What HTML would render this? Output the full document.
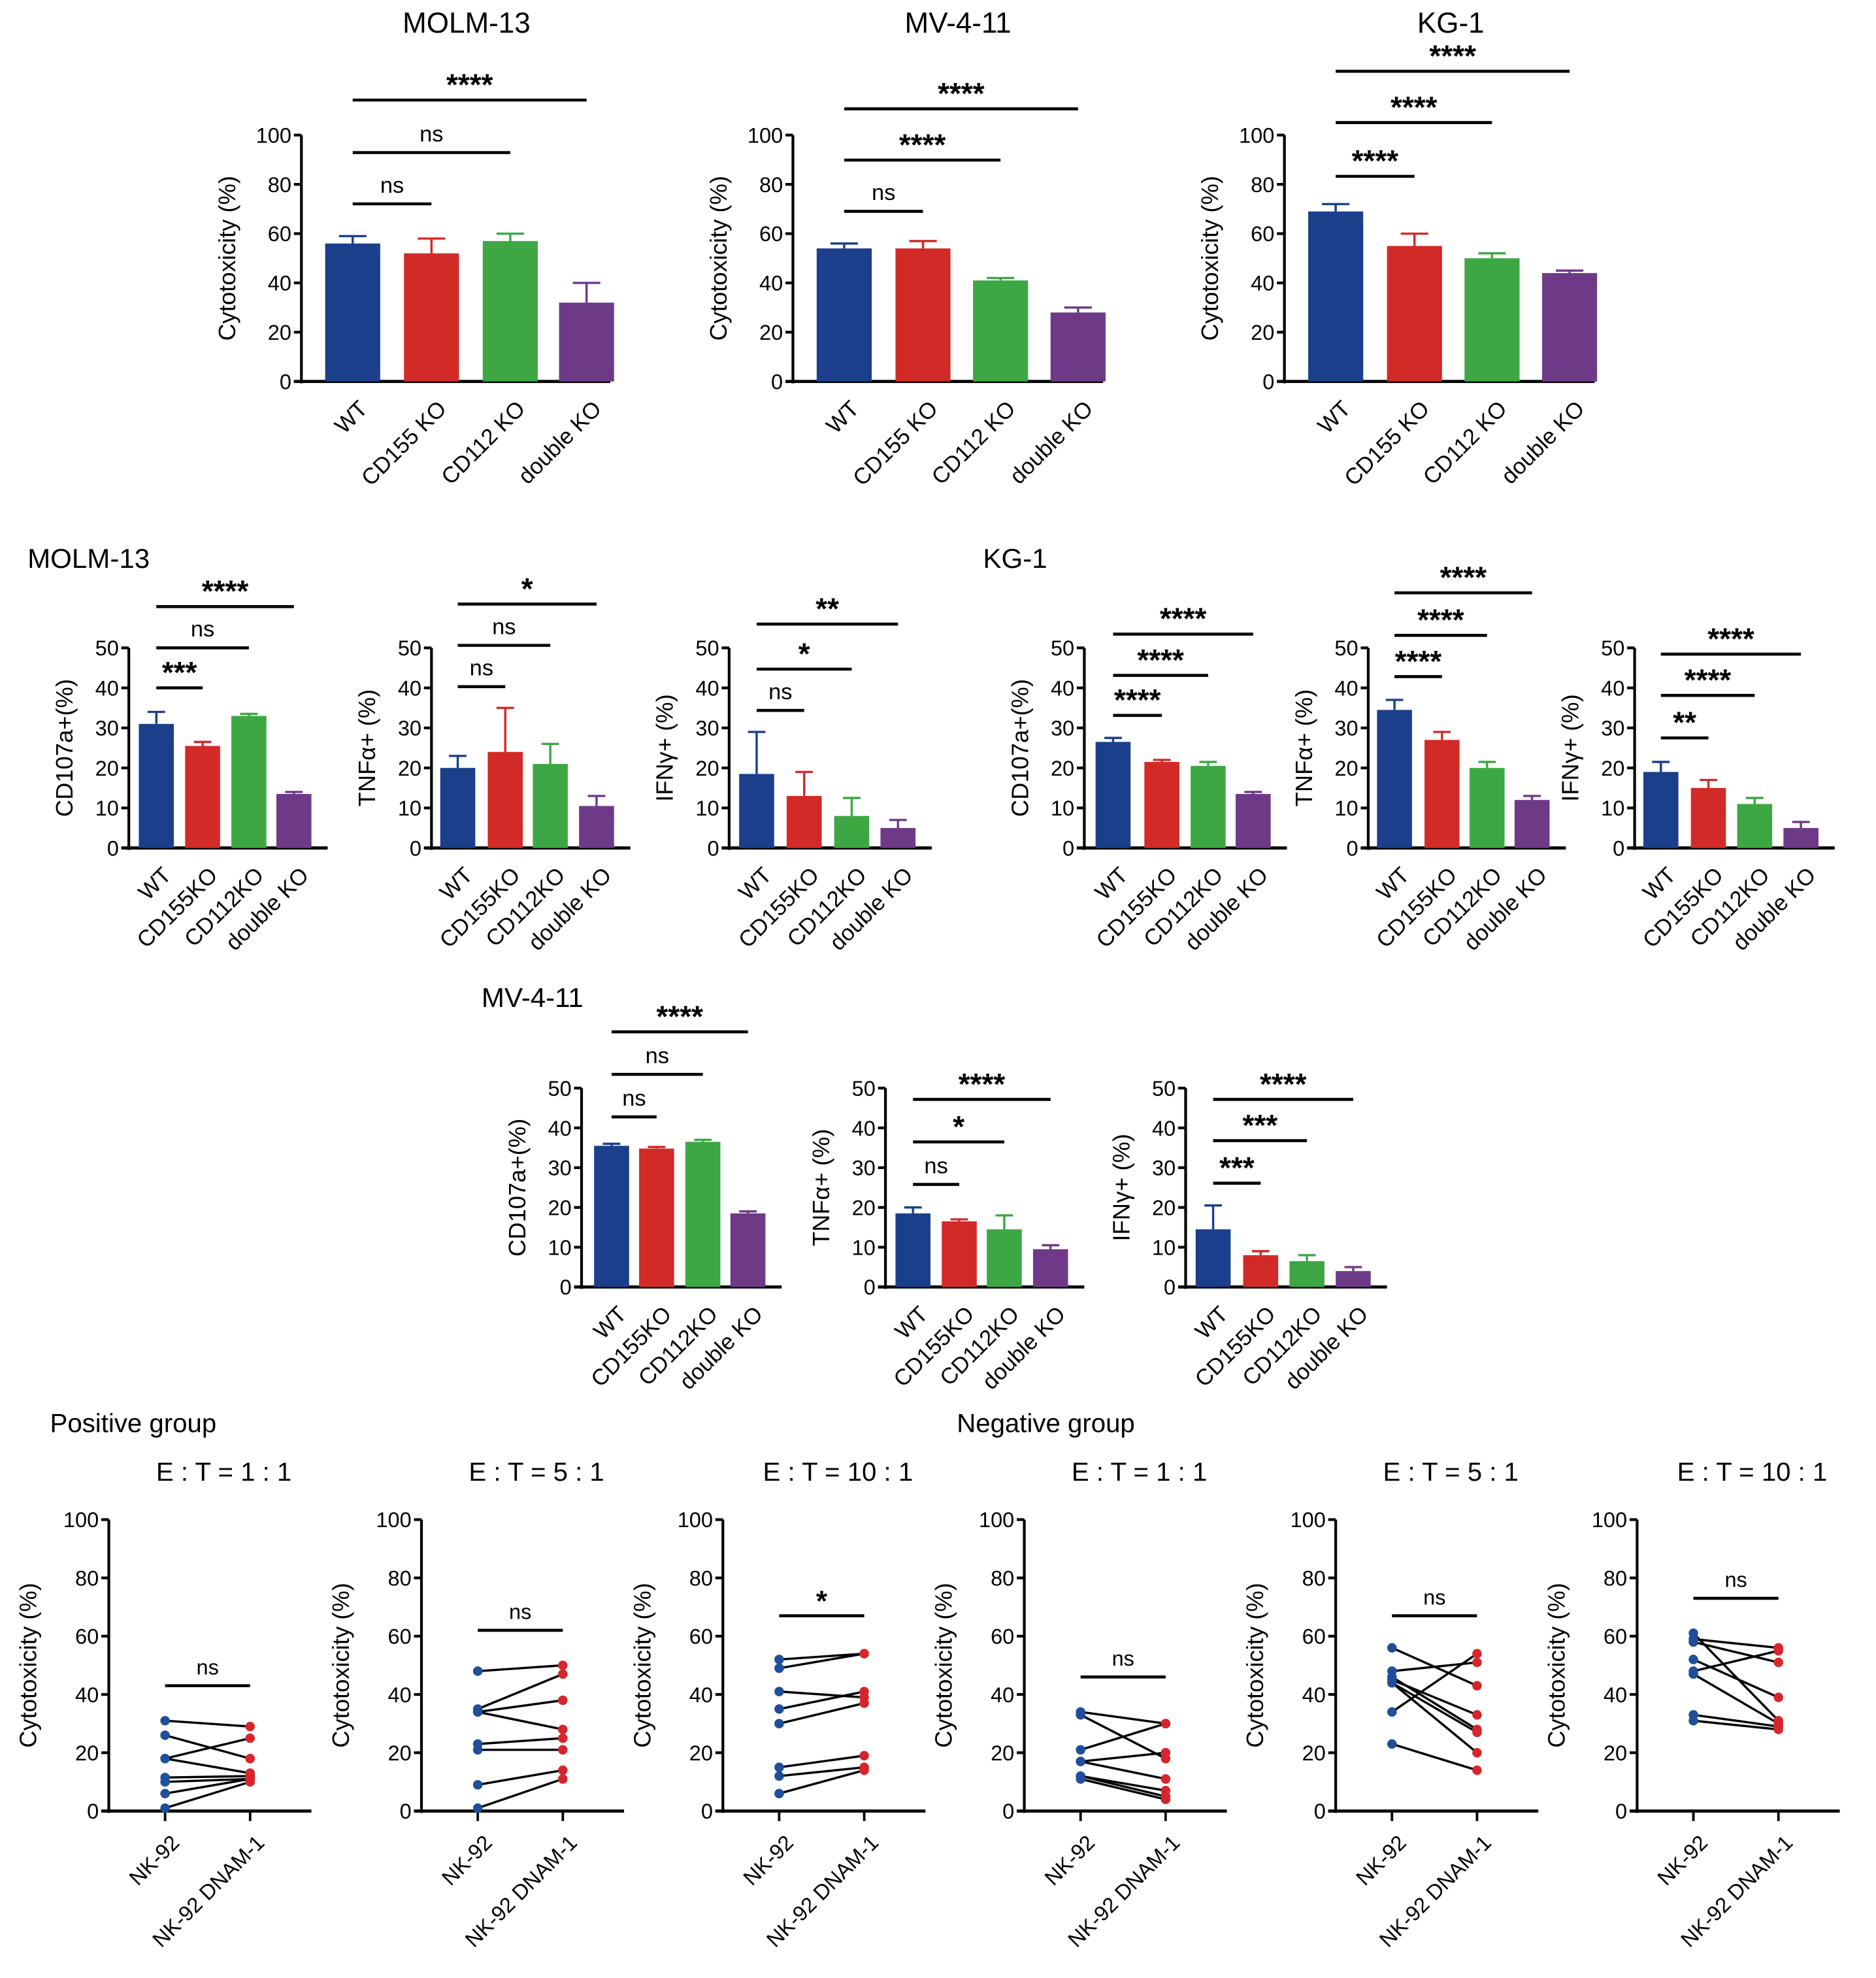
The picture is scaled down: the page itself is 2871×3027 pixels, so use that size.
<!DOCTYPE html>
<html><head><meta charset="utf-8"><style>
html,body{margin:0;padding:0;background:#fff}
svg{display:block}
text{font-family:"Liberation Sans",sans-serif;fill:#000}
</style></head><body>
<svg id="fig" width="2871" height="3027" viewBox="0 0 1500 1581.5" xmlns="http://www.w3.org/2000/svg"></svg>
<script>
// ---- data ----
const barCats=["WT","CD155 KO","CD112 KO","double KO"];
const barCats2=["WT","CD155KO","CD112KO","double KO"];
const colors=["#1b3f8b","#d22a27","#3da744","#6e3a88"];
const molmCyto=[56,52,57,32], molmCytoErr=[59,58,60,40];
const mvCyto=[54,54,41,28], mvCytoErr=[56,57,42,30];
const kgCyto=[69,55,50,44], kgCytoErr=[72,60,52,45];
const molmCD107=[31,25.5,33,13.5], molmCD107Err=[34,26.5,33.5,14];
const molmTNF=[20,24,21,10.5], molmTNFErr=[23,35,26,13];
const molmIFN=[18.5,13,8,5], molmIFNErr=[29,19,12.5,7];
const kgCD107=[26.5,21.5,20.5,13.5], kgCD107Err=[27.5,22,21.5,14];
const kgTNF=[34.5,27,20,12], kgTNFErr=[37,29,21.5,13];
const kgIFN=[19,15,11,5], kgIFNErr=[21.5,17,12.5,6.5];
const mvCD107=[35.5,34.8,36.5,18.5], mvCD107Err=[36,35.2,37,19];
const mvTNF=[18.5,16.5,14.5,9.5], mvTNFErr=[20,17,18,10.5];
const mvIFN=[14.5,8,6.5,4], mvIFNErr=[20.5,9,8,5];
const cytoTicks=[0,20,40,60,80,100];
const pctTicks=[0,10,20,30,40,50];
const pairCats=["NK-92","NK-92 DNAM-1"];
const posE1Before=[31,26,18,18,11.5,10,6,1], posE1After=[29,18,25,13,12,11,11,10];
const posE5Before=[48,35,34,34,23,21,9,1], posE5After=[50,47,38,28,25,21,14,11];
const posE10Before=[52,49,41,35,30,15,12,6], posE10After=[54,54,39,41,37,19,15,14];
const negE1Before=[34,33,21,17,17,12,12,11], negE1After=[30,18,30,20,11,7,5,4];
const negE5Before=[56,48,46,45,44,44,34,23], negE5After=[43,51,28,33,27,20,54,14];
const negE10Before=[61,59,58,52,48,47,33,31], negE10After=[31,56,51,39,55,30,29,28];

const NS="http://www.w3.org/2000/svg";
const svg=document.getElementById('fig');
function el(tag,attrs,parent,txt){const e=document.createElementNS(NS,tag);for(const k in attrs)e.setAttribute(k,attrs[k]);if(txt!==undefined)e.textContent=txt;(parent||svg).appendChild(e);return e;}
function txt(x,y,s,size,parent,anchor,extra){const t=el('text',Object.assign({x:x,y:y,'font-size':size,'text-anchor':anchor||'middle'},extra||{}),parent,s);return t;}

function axes(g,ax,y0,yTop,xEnd,ticks,maxV,tickSize,ylabel,ylx){
  const sc=v=>y0-(v/maxV)*(y0-yTop);
  el('line',{x1:ax,y1:y0+1.5,x2:ax,y2:yTop,stroke:'#000','stroke-width':2.2},g);
  el('line',{x1:ax-6,y1:y0,x2:xEnd,y2:y0,stroke:'#000','stroke-width':2.5},g);
  ticks.forEach(t=>{const y=sc(t);el('line',{x1:ax-6,y1:y,x2:ax,y2:y,stroke:'#000','stroke-width':2.2},g);
    txt(ax-8,y+tickSize*0.36,String(t),tickSize,g,'end');});
  const yl=txt(ylx,(y0+yTop)/2,ylabel,tickSize+2,g,'middle',{transform:`rotate(-90 ${ylx} ${(y0+yTop)/2})`});
  
  return sc;
}
function sig(g,x1,x2,y,label,size){
  const l=el('line',{x1:x1,y1:y,x2:x2,y2:y,stroke:'#000','stroke-width':2.4},g);
  
  txt((x1+x2)/2,label==='ns'?y-9:y-4,label,label==='ns'?size:size+6,g,'middle',label==='ns'?{}:{'font-weight':'bold'});
}
function barPanel(o){
  const g=el('g',{});
  const sc=axes(g,o.ax,o.y0,o.yTop,o.xEnd,o.ticks,o.max,o.ts,o.ylabel,o.ylx);
  o.vals.forEach((v,i)=>{const cx=o.xs[i],c=colors[i];
    const e=o.err[i];
    el('line',{x1:cx,y1:sc(v),x2:cx,y2:sc(e),stroke:c,'stroke-width':1.8},g);
    el('line',{x1:cx-o.bw*0.25,y1:sc(e),x2:cx+o.bw*0.25,y2:sc(e),stroke:c,'stroke-width':1.8},g);
    const r=el('rect',{x:cx-o.bw/2,y:sc(v),width:o.bw,height:o.y0-sc(v),fill:c},g);
    
    
    const tx=cx+4,ty=o.y0+14;
    txt(tx,ty,o.cats[i],o.ts+1,g,'end',{transform:`rotate(-45 ${tx} ${ty})`,dy:'0.7em'});
  });
  o.sigs.forEach(s=>sig(g,o.xs[0],o.xs[s[0]],s[1],s[2],o.ts+1));
}
function pairPanel(o){
  const g=el('g',{});
  const y0=1448,yTop=1215;
  const sc=axes(g,o.ax,y0,yTop,o.ax+162,cytoTicks,100,17,'Cytotoxicity (%)',o.ax-58);
  const xs=[o.ax+45,o.ax+113];
  xs.forEach((x,i)=>{el('line',{x1:x,y1:y0,x2:x,y2:y0+8,stroke:'#000','stroke-width':2},g);
    const tx=x+4,ty=y0+18;txt(tx,ty,pairCats[i],17,g,'end',{transform:`rotate(-45 ${tx} ${ty})`,dy:'0.7em'});});
  o.b.forEach((v,i)=>{const a=o.a[i];
    el('line',{x1:xs[0],y1:sc(v),x2:xs[1],y2:sc(a),stroke:'#000','stroke-width':1.8},g);});
  o.b.forEach((v,i)=>{const a=o.a[i];
    const p1=el('circle',{cx:xs[0],cy:sc(v),r:3.8,fill:'#1f4e9a'},g);
    
    const p2=el('circle',{cx:xs[1],cy:sc(a),r:3.8,fill:'#d7262b'},g);
    });
  sig(g,xs[0],xs[1],sc(o.s),o.sl,17);
  const t=txt(o.ax+92,1184,o.title,21,g);
}

// ---- top row ----
const topT=[["MOLM-13",373],["MV-4-11",766],["KG-1",1160]];
topT.forEach(t=>{const e=txt(t[1],26,t[0],23);});
barPanel({name:'molm13-cytotoxicity',ax:241,y0:305,yTop:108,xEnd:488,ticks:cytoTicks,max:100,ts:17,ylabel:'Cytotoxicity (%)',ylx:188,xs:[282,345,408,469],bw:44,vals:molmCyto,err:molmCytoErr,cats:barCats,sigs:[[1,163,'ns'],[2,122,'ns'],[3,80,'****']]});
barPanel({name:'mv411-cytotoxicity',ax:634,y0:305,yTop:108,xEnd:882,ticks:cytoTicks,max:100,ts:17,ylabel:'Cytotoxicity (%)',ylx:581,xs:[675,738,800,862],bw:44,vals:mvCyto,err:mvCytoErr,cats:barCats,sigs:[[1,169,'ns'],[2,128,'****'],[3,87,'****']]});
barPanel({name:'kg1-cytotoxicity',ax:1027,y0:305,yTop:108,xEnd:1275,ticks:cytoTicks,max:100,ts:17,ylabel:'Cytotoxicity (%)',ylx:974,xs:[1068,1131,1193,1255],bw:44,vals:kgCyto,err:kgCytoErr,cats:barCats,sigs:[[1,141,'****'],[2,98,'****'],[3,57,'****']]});

// ---- middle row ----
let e1=txt(22,454,'MOLM-13',22,null,'start');
e1=txt(786,454,'KG-1',22,null,'start');
const mid=(name,ax,xs,vals,err,lab,sigs,y0,yTop)=>barPanel({name:name,ax:ax,y0:y0,yTop:yTop,xEnd:xs[3]+27,ticks:pctTicks,max:50,ts:17,ylabel:lab,ylx:ax-45,xs:xs,bw:28,vals:vals,err:err,cats:barCats2,sigs:sigs});
mid('molm13-cd107a',103,[125,162,199,235],molmCD107,molmCD107Err,'CD107a+(%)',[[1,550,'***'],[2,518,'ns'],[3,485,'****']],678,518);
mid('molm13-tnfa',345,[366,404,440,477],molmTNF,molmTNFErr,'TNFα+ (%)',[[1,549,'ns'],[2,516,'ns'],[3,483,'*']],678,518);
mid('molm13-ifng',583,[605,643,681,718],molmIFN,molmIFNErr,'IFNγ+ (%)',[[1,568,'ns'],[2,535,'*'],[3,499,'**']],678,518);
mid('kg1-cd107a',867,[890,929,966,1002],kgCD107,kgCD107Err,'CD107a+(%)',[[1,572,'****'],[2,540,'****'],[3,507,'****']],678,518);
mid('kg1-tnfa',1094,[1115,1153,1189,1225],kgTNF,kgTNFErr,'TNFα+ (%)',[[1,541,'****'],[2,508,'****'],[3,474,'****']],678,518);
mid('kg1-ifng',1307,[1328,1366,1403,1440],kgIFN,kgIFNErr,'IFNγ+ (%)',[[1,590,'**'],[2,556,'****'],[3,523,'****']],678,518);

// ---- third row ----
e1=txt(385,805,'MV-4-11',22,null,'start');
mid('mv411-cd107a',465,[489,525,562,598],mvCD107,mvCD107Err,'CD107a+(%)',[[1,893,'ns'],[2,859,'ns'],[3,825,'****']],1029,870);
mid('mv411-tnfa',708,[730,767,803,840],mvTNF,mvTNFErr,'TNFα+ (%)',[[1,947,'ns'],[2,913,'*'],[3,879,'****']],1029,870);
mid('mv411-ifng',948,[970,1008,1045,1082],mvIFN,mvIFNErr,'IFNγ+ (%)',[[1,946,'***'],[2,912,'***'],[3,879,'****']],1029,870);

// ---- bottom row ----
e1=txt(40,1145,'Positive group',21,null,'start');
e1=txt(765,1145,'Negative group',21,null,'start');
pairPanel({name:'positive-et1',ax:87,b:posE1Before,a:posE1After,s:43,sl:'ns',title:'E : T = 1 : 1'});
pairPanel({name:'positive-et5',ax:337,b:posE5Before,a:posE5After,s:62,sl:'ns',title:'E : T = 5 : 1'});
pairPanel({name:'positive-et10',ax:578,b:posE10Before,a:posE10After,s:67,sl:'*',title:'E : T = 10 : 1'});
pairPanel({name:'negative-et1',ax:819,b:negE1Before,a:negE1After,s:46,sl:'ns',title:'E : T = 1 : 1'});
pairPanel({name:'negative-et5',ax:1068,b:negE5Before,a:negE5After,s:67,sl:'ns',title:'E : T = 5 : 1'});
pairPanel({name:'negative-et10',ax:1309,b:negE10Before,a:negE10After,s:73,sl:'ns',title:'E : T = 10 : 1'});
</script>
</body></html>
